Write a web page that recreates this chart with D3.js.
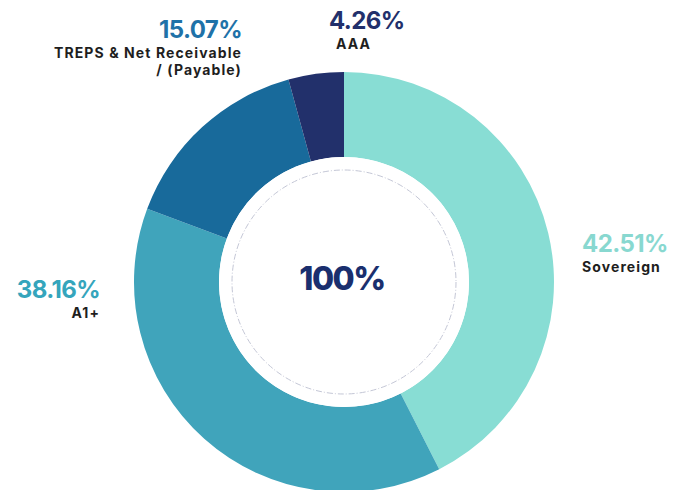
<!DOCTYPE html>
<html><head><meta charset="utf-8">
<script src="https://cdn.jsdelivr.net/npm/d3@7"></script>
<style>
html,body{margin:0;padding:0;background:#fff;}
svg{display:block;}
</style></head>
<body>
<svg id="chart" width="681" height="490"></svg>
<script>
const categories = ["Sovereign", "A1+", "TREPS & Net Receivable / (Payable)", "AAA"];
const values = [42.51, 38.16, 15.07, 4.26];
const valueLabels = ["42.51%", "38.16%", "15.07%", "4.26%"];
const nameLines = [["Sovereign"], ["A1+"], ["TREPS & Net Receivable", "/ (Payable)"], ["AAA"]];
const centerLabel = "100%";

const colors = ["#88ddd4", "#40a4bb", "#186a9b", "#22306b"];
const textColors = ["#88d8d0", "#35a5bc", "#1f72a8", "#22306b"];

// label layout (anchor x, value baseline y, alignment)
const labelLayout = [
  {x: 582, y: 252, anchor: "start", nameDx: 0, nameDy: 20},
  {x: 100, y: 298, anchor: "end", nameDx: 0, nameDy: 20},
  {x: 242, y: 38, anchor: "end", nameDx: 0, nameDy: 20},
  {x: 329, y: 29, anchor: "start", nameDx: 7, nameDy: 20}
];

const svg = d3.select("#chart");
const cx = 344, cy = 282, rOuter = 210, rInner = 125;

const pie = d3.pie().sort(null).value(d => d)(values);
const arc = d3.arc().innerRadius(rInner).outerRadius(rOuter);

const g = svg.append("g").attr("transform", `translate(${cx},${cy})`);
g.selectAll("path.slice").data(pie).join("path")
  .attr("class", "slice")
  .attr("d", arc)
  .attr("fill", (d, i) => colors[i]);

g.append("circle").attr("r", rInner).attr("fill", "#fff");
g.append("circle").attr("r", 112)
  .attr("fill", "none")
  .attr("stroke", "#c4c7d6")
  .attr("stroke-width", 1)
  .attr("stroke-dasharray", "6 2 1 2");

g.append("text")
  .attr("x", -2).attr("y", 8)
  .attr("text-anchor", "middle")
  .attr("font-family", "Inter, sans-serif")
  .attr("font-weight", 800)
  .attr("font-size", 32)
  .attr("letter-spacing", -1.5)
  .attr("fill", "#1a2f6e")
  .text(centerLabel);

const labels = svg.append("g");
labelLayout.forEach((L, i) => {
  const t = labels.append("text")
    .attr("text-anchor", L.anchor)
    .attr("font-family", "Inter, sans-serif");
  t.append("tspan")
    .attr("x", L.x).attr("y", L.y)
    .attr("font-weight", 700)
    .attr("font-size", 24)
    .attr("letter-spacing", -0.6)
    .attr("fill", textColors[i])
    .text(valueLabels[i]);
  nameLines[i].forEach((line, j) => {
    t.append("tspan")
      .attr("x", L.x + L.nameDx).attr("y", L.y + L.nameDy + j * 17)
      .attr("font-weight", 700)
      .attr("font-size", 14)
      .attr("letter-spacing", 1.1)
      .attr("fill", "#1e1e1e")
      .text(line);
  });
});
</script>
</body></html>
